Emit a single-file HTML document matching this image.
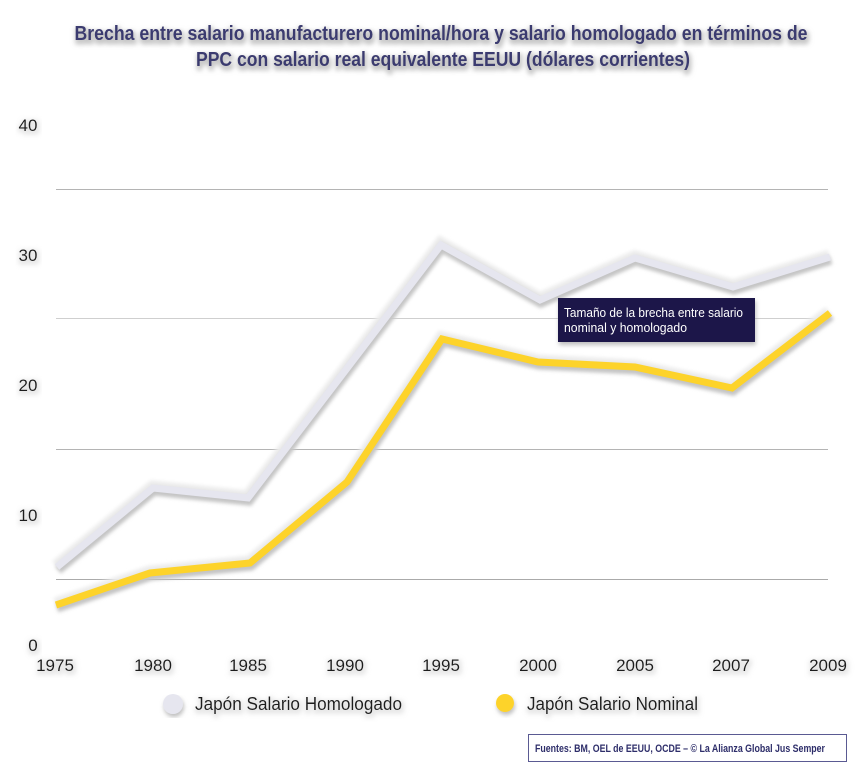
<!DOCTYPE html>
<html><head><meta charset="utf-8"><style>
html,body{margin:0;padding:0;background:#fff;}
svg{display:block;}
text{font-family:"Liberation Sans",sans-serif;}
</style></head><body>
<svg width="856" height="767" viewBox="0 0 856 767" xmlns="http://www.w3.org/2000/svg">
<defs>
<filter id="bl" x="-10%" y="-10%" width="120%" height="130%">
<feGaussianBlur stdDeviation="1.8"/>
</filter>
<filter id="sh" x="-10%" y="-10%" width="120%" height="130%">
<feGaussianBlur in="SourceAlpha" stdDeviation="2.2" result="b"/>
<feOffset dx="1" dy="3" result="o"/>
<feFlood flood-color="#8a8a8a" flood-opacity="0.55"/>
<feComposite in2="o" operator="in" result="s"/>
<feMerge><feMergeNode in="s"/><feMergeNode in="SourceGraphic"/></feMerge>
</filter>
<filter id="tg" x="-20%" y="-30%" width="140%" height="170%">
<feMorphology in="SourceAlpha" operator="dilate" radius="1.5" result="d"/>
<feGaussianBlur in="d" stdDeviation="2.5" result="b"/>
<feOffset dx="1" dy="3" result="o"/>
<feFlood flood-color="#9a9a9a" flood-opacity="0.55"/>
<feComposite in2="o" operator="in" result="s"/>
<feMerge><feMergeNode in="s"/><feMergeNode in="SourceGraphic"/></feMerge>
</filter>
<filter id="lg" x="-20%" y="-40%" width="140%" height="180%">
<feMorphology in="SourceAlpha" operator="dilate" radius="2" result="d"/>
<feGaussianBlur in="d" stdDeviation="2.5" result="b"/>
<feOffset dx="1" dy="2" result="o"/>
<feFlood flood-color="#bdbdbd" flood-opacity="0.35"/>
<feComposite in2="o" operator="in" result="s"/>
<feMerge><feMergeNode in="s"/><feMergeNode in="SourceGraphic"/></feMerge>
</filter>
</defs>

<!-- Title -->
<g filter="url(#tg)" fill="#3a3a70" font-weight="bold" font-size="20">
<text x="441" y="40" text-anchor="middle" textLength="733" lengthAdjust="spacingAndGlyphs">Brecha entre salario manufacturero nominal/hora y salario homologado en términos de</text>
<text x="443" y="66" text-anchor="middle" textLength="494" lengthAdjust="spacingAndGlyphs">PPC con salario real equivalente EEUU (dólares corrientes)</text>
</g>

<!-- Gridlines -->
<g stroke-width="1">
<line x1="56" y1="189.5" x2="828" y2="189.5" stroke="#b4b4b4"/>
<line x1="56" y1="318.5" x2="828" y2="318.5" stroke="#cfcfcf"/>
<line x1="56" y1="449.5" x2="828" y2="449.5" stroke="#b4b4b4"/>
<line x1="56" y1="579.5" x2="828" y2="579.5" stroke="#aaaaaa"/>
</g>

<!-- Y labels -->
<g font-size="17" fill="#1a1a1a" text-anchor="middle" filter="url(#lg)">
<text x="28" y="131">40</text>
<text x="28" y="261">30</text>
<text x="28" y="391">20</text>
<text x="28" y="521">10</text>
<text x="33" y="651">0</text>
</g>

<!-- X labels -->
<g font-size="17" fill="#1a1a1a" text-anchor="middle" filter="url(#lg)">
<text x="55" y="671">1975</text>
<text x="153" y="671">1980</text>
<text x="248" y="671">1985</text>
<text x="345" y="671">1990</text>
<text x="441" y="671">1995</text>
<text x="538" y="671">2000</text>
<text x="635" y="671">2005</text>
<text x="731" y="671">2007</text>
<text x="828" y="671">2009</text>
</g>

<!-- Shadow underlays -->
<g filter="url(#bl)" fill="none" stroke-linejoin="miter">
<polyline stroke="#ececec" stroke-width="15" points="57,567 153,488 248,498 345,371 441,245 540,300 635,258 733,287 830,257"/>
<polyline stroke="#c4c4c4" stroke-width="9" transform="translate(1,3)" points="57,567 153,488 248,498 345,371 441,245 540,300 635,258 733,287 830,257"/>
<polyline stroke="#ececec" stroke-width="15" points="56,605 150,573 250,563 347,482 442,339 538,362 635,367 732,388 830,313"/>
<polyline stroke="#c4c4c4" stroke-width="9" transform="translate(1,3)" points="56,605 150,573 250,563 347,482 442,339 538,362 635,367 732,388 830,313"/>
</g>

<!-- Homologado series -->
<polyline fill="none" stroke="#e6e6ef" stroke-width="7" stroke-linejoin="miter" points="57,567 153,488 248,498 345,371 441,245 540,300 635,258 733,287 830,257"/>

<!-- Nominal series -->
<polyline fill="none" stroke="#fdd32a" stroke-width="7" stroke-linejoin="miter" points="56,605 150,573 250,563 347,482 442,339 538,362 635,367 732,388 830,313"/>

<!-- Tooltip -->
<g filter="url(#sh)">
<rect x="558" y="298" width="197" height="44" fill="#1a1848"/>
</g>
<g fill="#ffffff" font-size="13">
<text x="564" y="317" textLength="179" lengthAdjust="spacingAndGlyphs">Tamaño de la brecha entre salario</text>
<text x="564" y="332" textLength="123" lengthAdjust="spacingAndGlyphs">nominal y homologado</text>
</g>

<!-- Legend -->
<g filter="url(#sh)">
<circle cx="173" cy="704" r="10" fill="#e6e6ef"/>
<circle cx="505" cy="703" r="9" fill="#fdd32a"/>
</g>
<g font-size="18" fill="#1a1a1a" filter="url(#lg)">
<text x="195" y="710" textLength="207" lengthAdjust="spacingAndGlyphs">Japón Salario Homologado</text>
<text x="527" y="710" textLength="171" lengthAdjust="spacingAndGlyphs">Japón Salario Nominal</text>
</g>

<!-- Footer -->
<rect x="528.5" y="734.5" width="318" height="27" fill="#ffffff" stroke="#5a5a92" stroke-width="1"/>
<text x="535" y="752" font-size="11" font-weight="bold" fill="#2e2e6a" textLength="290" lengthAdjust="spacingAndGlyphs">Fuentes: BM, OEL de EEUU, OCDE – © La Alianza Global Jus Semper</text>
</svg>
</body></html>
